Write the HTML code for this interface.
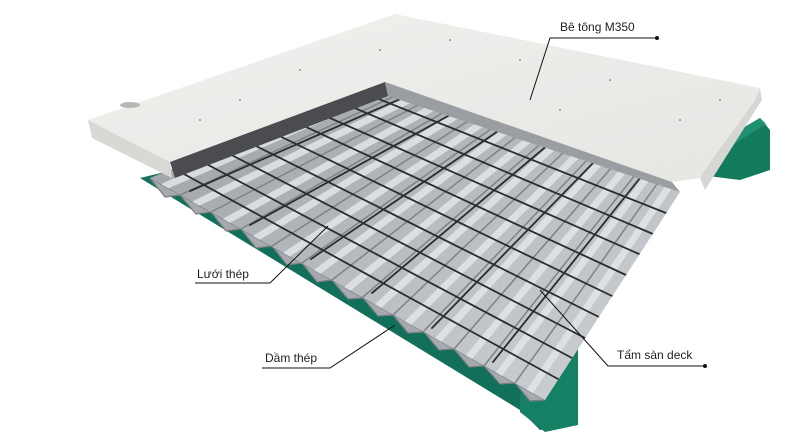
<!DOCTYPE html>
<html><head><meta charset="utf-8"><style>
html,body{margin:0;padding:0;background:#fff;width:800px;height:439px;overflow:hidden}
svg{display:block}
text{font-family:"Liberation Sans","Noto Sans CJK SC",sans-serif;font-size:12px;fill:#222}
</style></head><body>
<svg width="800" height="439" viewBox="0 0 800 439" xmlns="http://www.w3.org/2000/svg">
<defs>
<linearGradient id="deck" x1="0" y1="0" x2="1" y2="1">
<stop offset="0" stop-color="#9a9ea3"/><stop offset="0.5" stop-color="#b9bdc1"/><stop offset="1" stop-color="#cfd2d5"/>
</linearGradient>
<linearGradient id="conc" x1="0" y1="0" x2="1" y2="1">
<stop offset="0" stop-color="#f0f0ee"/><stop offset="1" stop-color="#e6e6e3"/>
</linearGradient>
<clipPath id="dc"><polygon points="150,178 385,82 680,192 545,400"/></clipPath>
</defs>
<!-- right green beam -->
<polygon points="705,150 760,118 770,130 770,170 740,180 700,175" fill="#137a5e"/>
<polygon points="705,150 760,118 766,124 712,158" fill="#1f9070"/>
<!-- lower green beam -->
<polygon points="140,178 165,172 560,370 575,395 575,425 540,430 520,410" fill="#12705a"/>
<polygon points="520,395 560,330 578,345 578,425 545,432 520,412" fill="#168064"/>
<polygon points="545,345 570,335 578,345 553,355" fill="#1f9a75"/>
<!-- deck corrugated profile -->
<polygon points="150,178 165,197 180,195 196,214 211,212 226,231 241,229 256,248 272,246 287,265 302,263 317,282 332,280 348,299 363,298 378,316 393,315 408,333 424,332 439,350 454,349 469,367 484,366 500,384 515,383 530,401 545,400" fill="#a6aaae" stroke="#7a7e82" stroke-width="1.2" stroke-linejoin="round"/>
<!-- deck -->
<polygon points="150,178 385,82 680,192 545,400" fill="url(#deck)"/>
<g clip-path="url(#dc)" stroke-linecap="round">
<g stroke="#e2e5e8" stroke-width="7" opacity="0.85">
<line x1="165" y1="186" x2="396" y2="86"/><line x1="195" y1="204" x2="419" y2="95"/>
<line x1="226" y1="221" x2="441" y2="103"/><line x1="256" y1="238" x2="464" y2="111"/>
<line x1="286" y1="255" x2="487" y2="120"/><line x1="317" y1="272" x2="510" y2="128"/>
<line x1="347" y1="289" x2="532" y2="137"/><line x1="378" y1="306" x2="555" y2="145"/>
<line x1="408" y1="323" x2="578" y2="154"/><line x1="438" y1="340" x2="600" y2="162"/>
<line x1="469" y1="357" x2="623" y2="171"/><line x1="499" y1="374" x2="646" y2="179"/>
<line x1="530" y1="391" x2="668" y2="188"/>
</g>
<g stroke="#7e8287" stroke-width="1.5">
<line x1="180" y1="195" x2="408" y2="90"/><line x1="211" y1="212" x2="430" y2="99"/>
<line x1="241" y1="229" x2="453" y2="107"/><line x1="272" y1="246" x2="476" y2="116"/>
<line x1="302" y1="263" x2="498" y2="124"/><line x1="332" y1="280" x2="521" y2="133"/>
<line x1="363" y1="297" x2="544" y2="141"/><line x1="393" y1="315" x2="566" y2="150"/>
<line x1="423" y1="332" x2="589" y2="158"/><line x1="454" y1="349" x2="612" y2="167"/>
<line x1="484" y1="366" x2="635" y2="175"/><line x1="515" y1="383" x2="657" y2="184"/>
</g>
<g stroke="#2a2c2e" stroke-width="1.8">
<line x1="173" y1="168" x2="558" y2="379"/><line x1="197" y1="159" x2="572" y2="358"/>
<line x1="220" y1="149" x2="585" y2="338"/><line x1="244" y1="140" x2="599" y2="317"/>
<line x1="267" y1="130" x2="612" y2="296"/><line x1="291" y1="120" x2="626" y2="275"/>
<line x1="314" y1="111" x2="639" y2="254"/><line x1="338" y1="101" x2="653" y2="234"/>
<line x1="361" y1="92" x2="666" y2="213"/>
<line x1="190" y1="191" x2="414" y2="93"/><line x1="250" y1="225" x2="459" y2="110"/>
<line x1="311" y1="259" x2="504" y2="127"/><line x1="372" y1="293" x2="549" y2="144"/>
<line x1="432" y1="328" x2="595" y2="161"/><line x1="493" y1="362" x2="640" y2="178"/>
</g>
</g>
<!-- concrete -->
<polygon points="88,120 395,14 760,88 755,100 700,178 672,182 385,82 170,162" fill="url(#conc)"/>
<polygon points="88,120 170,162 172,178 92,138" fill="#d8d8d5"/>
<polygon points="170,162 385,82 388,96 175,178" fill="#4a4c50"/>
<polygon points="700,178 755,100 760,88 762,100 705,190" fill="#d6d6d3"/>
<polygon points="385,82 672,182 680,192 388,96" fill="#9a9ea2"/>
<g fill="#555">
<circle cx="450" cy="40" r="0.8"/><circle cx="520" cy="60" r="0.8"/><circle cx="610" cy="80" r="0.8"/><circle cx="300" cy="70" r="0.8"/><circle cx="240" cy="100" r="0.8"/><circle cx="680" cy="120" r="0.8"/><circle cx="560" cy="110" r="0.8"/><circle cx="380" cy="50" r="0.8"/><circle cx="720" cy="100" r="0.8"/><circle cx="200" cy="120" r="0.8"/>
</g>
<ellipse cx="130" cy="105" rx="10" ry="3" fill="#b8b8b6"/>
<!-- labels -->
<g stroke="#111" stroke-width="1" fill="none">
<polyline points="530,100 550,38 656,38"/>
<polyline points="328,226 270,283 195,283"/>
<polyline points="395,325 330,368 262,368"/>
<polyline points="540,290 608,366 705,366"/>
</g>
<g fill="#111"><circle cx="657" cy="38" r="2"/><circle cx="705" cy="366" r="2"/></g>
<text x="560" y="31">Bê tông M350</text>
<text x="197" y="278">Lưới thép</text>
<text x="265" y="362">Dầm thép</text>
<text x="617" y="359">Tấm sàn deck</text>
</svg>
</body></html>
